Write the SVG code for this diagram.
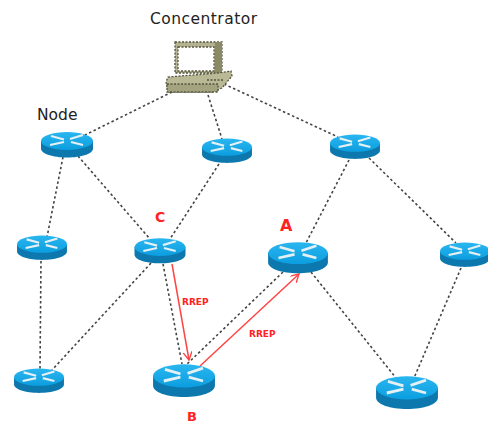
<svg xmlns="http://www.w3.org/2000/svg" width="488" height="425" viewBox="0 0 488 425">
<style>
.t{font-family:"DejaVu Sans",sans-serif;font-size:15.500px;fill:#222}
.r{font-family:"DejaVu Sans",sans-serif;font-weight:bold;fill:#f22}
.l{stroke:#444;stroke-width:1.600;stroke-dasharray:2.500 2.500;fill:none}
.a{stroke:#f44;stroke-width:1.500;fill:none}
.o{stroke:#55553f;stroke-width:1.300;stroke-dasharray:2 1.500}
</style>
<defs>
<filter id="soft" x="-10%" y="-10%" width="120%" height="120%"><feGaussianBlur stdDeviation="0.450"/></filter>
<linearGradient id="top" x1="0" y1="0" x2="0" y2="1"><stop offset="0" stop-color="#2ab6f0"/><stop offset="1" stop-color="#0c9edf"/></linearGradient>
<g id="router" filter="url(#soft)">
<path d="M-26-4V3.500C-26 9-14 12.500 0 12.500S26 9 26 3.500V-4Z" fill="#0a78ad"/>
<ellipse cx="0" cy="-4" rx="26" ry="9" fill="url(#top)"/>
<path d="M-16-9L-3-5.500M16-10L3-6M-17 0L-3-3M16 0L4-3" stroke="#e4f0f3" stroke-width="2.200" fill="none"/>
</g>
<marker id="ah" markerWidth="10" markerHeight="10" refX="8" refY="4.500" orient="auto" markerUnits="userSpaceOnUse"><path d="M0 0L8 4.500L0 9" fill="none" stroke="#f44" stroke-width="1.400"/></marker>
</defs>
<g id="connectors">
<path class="l" d="M172 92L85 135"/>
<path class="l" d="M208 95L222 139"/>
<path class="l" d="M224 84L338 137"/>
<path class="l" d="M63 157L47 237"/>
<path class="l" d="M78 156L150 239"/>
<path class="l" d="M219 164L170 239"/>
<path class="l" d="M349 160L306 243"/>
<path class="l" d="M369 158L456 243"/>
<path class="l" d="M41 261L40 370"/>
<path class="l" d="M151 263L52 370"/>
<path class="l" d="M163 264L182 364"/>
<path class="l" d="M283 272L186 365"/>
<path class="l" d="M311 272L396 378"/>
<path class="l" d="M461 268L414 378"/>
<path class="a" d="M172 264L189 360" marker-end="url(#ah)"/>
<path class="a" d="M200 366L299 274" marker-end="url(#ah)"/>
</g>
<g id="concentrator" filter="url(#soft)">
<path d="M175 42H222V73H175Z" fill="#b3b391" class="o"/>
<path d="M215 42H222V73H215Z" fill="#8a8a66"/>
<path d="M178 47H214V71H178Z" fill="#fff" class="o"/>
<path d="M168 77L218 73L231 71L232 76L222 88L212 92H168L166 82Z" fill="#b9b996" class="o"/>
<path d="M167 84H218V92H167Z" fill="#a3a37f" class="o"/>
<path d="M207 80H224" class="o" fill="none"/>
</g>
<g id="node-1"><use href="#router" transform="translate(67 145)"/></g>
<g id="node-2"><use href="#router" transform="translate(227 151) scale(.96)"/></g>
<g id="node-3"><use href="#router" transform="translate(355 147) scale(.96)"/></g>
<g id="node-4"><use href="#router" transform="translate(42 248) scale(.96)"/></g>
<g id="node-c"><use href="#router" transform="translate(160 251) scale(.98)"/></g>
<g id="node-a"><use href="#router" transform="translate(298 258) scale(1.150 1.220)"/></g>
<g id="node-5"><use href="#router" transform="translate(465 255) scale(.96)"/></g>
<g id="node-6"><use href="#router" transform="translate(39 381) scale(.96)"/></g>
<g id="node-b"><use href="#router" transform="translate(184 381) scale(1.190 1.280)"/></g>
<g id="node-7"><use href="#router" transform="translate(407 393) scale(1.190 1.280)"/></g>
<text class="t" x="150" y="24" textLength="107">Concentrator</text>
<text class="t" x="37" y="120">Node</text>
<text class="r" x="155" y="222" font-size="14">C</text>
<text class="r" x="280" y="231" font-size="16">A</text>
<text class="r" x="187" y="421" font-size="13">B</text>
<text class="r" x="182" y="305" font-size="9">RREP</text>
<text class="r" x="249" y="337" font-size="9">RREP</text>
</svg>
